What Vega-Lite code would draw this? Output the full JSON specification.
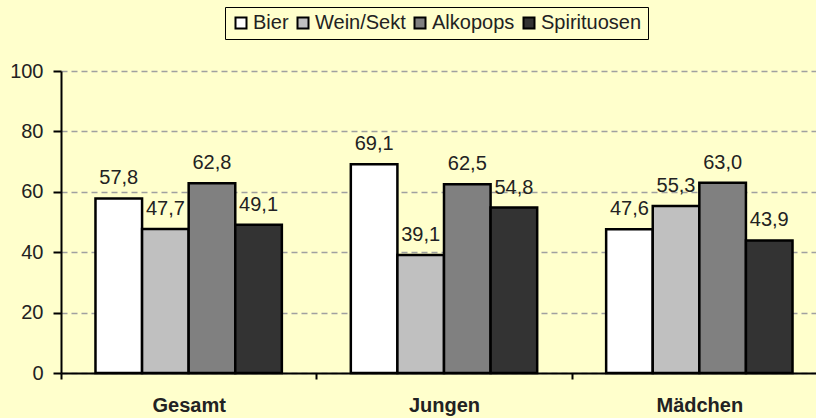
{
  "$schema": "https://vega.github.io/schema/vega-lite/v6.json",
  "autosize": {"type": "none"},
  "padding": {"left": 61, "top": 71, "right": 0, "bottom": 45},
  "width": 755,
  "height": 302,
  "background": "#FFFFCC",
  "config": {
    "view": {"stroke": null},
    "font": "Liberation Sans",
    "locale": {"number": {"decimal": ",", "thousands": ".", "grouping": [3], "currency": ["", " €"]}}
  },
  "data": {
    "values": [
      {"gruppe": "Gesamt", "getraenk": "Bier", "wert": 57.8},
      {"gruppe": "Gesamt", "getraenk": "Wein/Sekt", "wert": 47.7},
      {"gruppe": "Gesamt", "getraenk": "Alkopops", "wert": 62.8},
      {"gruppe": "Gesamt", "getraenk": "Spirituosen", "wert": 49.1},
      {"gruppe": "Jungen", "getraenk": "Bier", "wert": 69.1},
      {"gruppe": "Jungen", "getraenk": "Wein/Sekt", "wert": 39.1},
      {"gruppe": "Jungen", "getraenk": "Alkopops", "wert": 62.5},
      {"gruppe": "Jungen", "getraenk": "Spirituosen", "wert": 54.8},
      {"gruppe": "Mädchen", "getraenk": "Bier", "wert": 47.6},
      {"gruppe": "Mädchen", "getraenk": "Wein/Sekt", "wert": 55.3},
      {"gruppe": "Mädchen", "getraenk": "Alkopops", "wert": 63.0},
      {"gruppe": "Mädchen", "getraenk": "Spirituosen", "wert": 43.9}
    ]
  },
  "encoding": {
    "x": {
      "field": "gruppe", "type": "nominal", "sort": ["Gesamt", "Jungen", "Mädchen"],
      "scale": {"range": [0, 766], "paddingInner": 0, "paddingOuter": 0},
      "axis": {
        "title": null, "labelAngle": 0, "tickBand": "extent",
        "domainColor": "#000000", "domainWidth": 2,
        "tickColor": "#000000", "tickWidth": 2, "tickSize": 6,
        "labelFont": "Liberation Sans", "labelFontSize": 20, "labelFontWeight": "bold",
        "labelColor": "#222222", "labelPadding": 16
      }
    },
    "xOffset": {
      "field": "getraenk", "type": "nominal",
      "sort": ["Bier", "Wein/Sekt", "Alkopops", "Spirituosen"],
      "scale": {"paddingInner": 0, "paddingOuter": 0.74}
    },
    "y": {
      "field": "wert", "type": "quantitative",
      "scale": {"domain": [0, 100], "nice": false},
      "axis": {
        "title": null, "values": [0, 20, 40, 60, 80, 100],
        "domainColor": "#000000", "domainWidth": 2,
        "tickColor": "#000000", "tickWidth": 2, "tickSize": 8,
        "labelFont": "Liberation Sans", "labelFontSize": 20, "labelColor": "#222222",
        "labelPadding": 10,
        "grid": true, "gridColor": "#A0A0A0", "gridDash": [6, 4], "gridWidth": 1.5
      }
    }
  },
  "layer": [
    {
      "mark": {"type": "bar", "stroke": "#000000", "strokeWidth": 2.5},
      "encoding": {
        "color": {
          "field": "getraenk", "type": "nominal",
          "sort": ["Bier", "Wein/Sekt", "Alkopops", "Spirituosen"],
          "scale": {
            "domain": ["Bier", "Wein/Sekt", "Alkopops", "Spirituosen"],
            "range": ["#FFFFFF", "#C0C0C0", "#808080", "#333333"]
          },
          "legend": {
            "title": null, "orient": "none", "direction": "horizontal",
            "legendX": 164, "legendY": -64,
            "symbolType": "square", "symbolSize": 121,
            "symbolStrokeColor": "#000000", "symbolStrokeWidth": 2,
            "labelFont": "Liberation Sans", "labelFontSize": 20, "labelColor": "#222222",
            "labelOffset": 2, "columnPadding": 4, "padding": 6,
            "strokeColor": "#000000"
          }
        }
      }
    },
    {
      "mark": {"type": "text", "baseline": "alphabetic", "dy": -14, "fontSize": 20, "font": "Liberation Sans", "color": "#222222"},
      "encoding": {
        "text": {"field": "wert", "type": "quantitative", "format": ".1f"}
      }
    }
  ]
}
